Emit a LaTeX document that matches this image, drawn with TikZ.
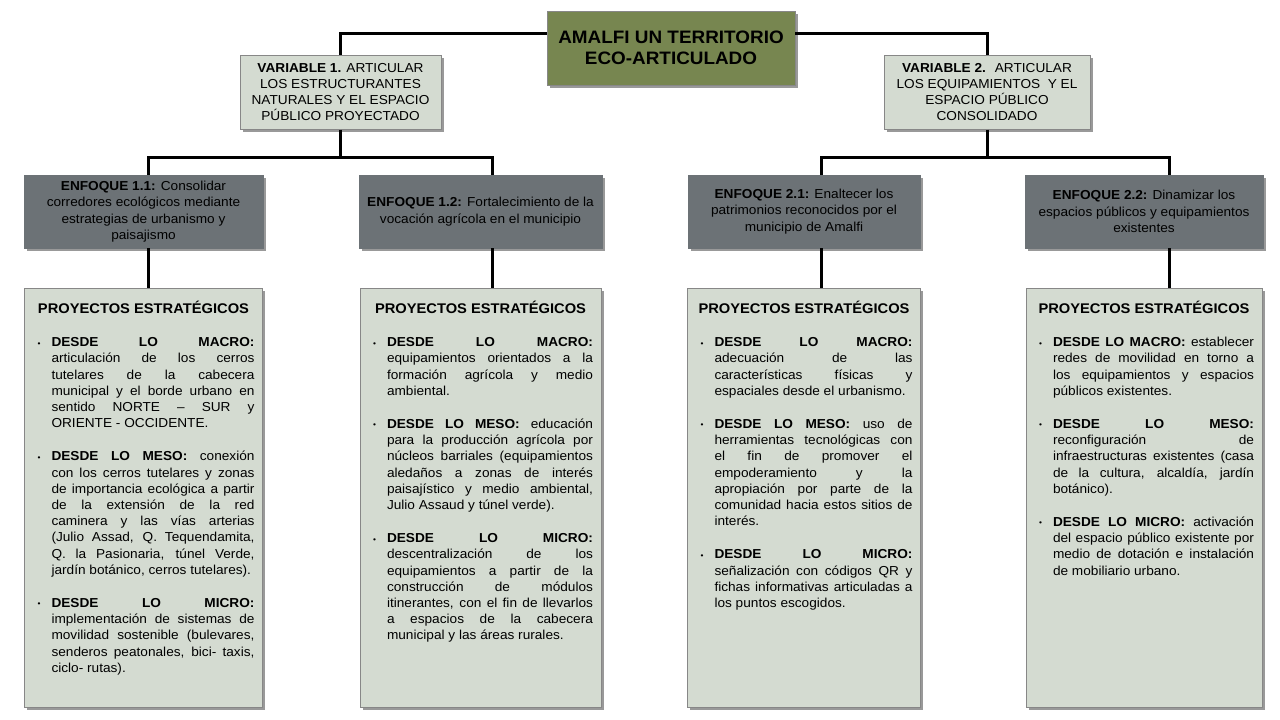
\documentclass[tikz,border=0pt]{standalone}
\usepackage{fontspec}
\setmainfont{Liberation Sans}[FakeStretch=1.05]
\usepackage{enumitem}
\usepackage{tikz}
\usetikzlibrary{positioning, shadows}
\definecolor{verdetit}{RGB}{119,134,80}
\definecolor{grisclaro}{RGB}{212,219,209}
\definecolor{grisosc}{RGB}{108,114,118}
\definecolor{borde}{RGB}{135,135,135}
\tikzstyle{caja} = [rectangle, draw=borde, line width=0.6pt, inner sep=0pt, drop shadow={shadow xshift=2.5pt, shadow yshift=-2.5pt, opacity=0.4, fill=black}]
\tikzstyle{linea} = [line width=3pt]

% lista de proyectos (ancho, items)
\newcommand{\listaproy}[2]{%
  \parbox[c][403pt][t]{#1}{%
    \tolerance=10000 \hbadness=10000 \hyphenpenalty=10000
    \vspace*{5pt}%
    {\centering\fontsize{14}{16}\selectfont\bfseries PROYECTOS ESTRATÉGICOS\par}%
    \fontsize{13}{16.2}\selectfont
    \begin{itemize}[label={\fontsize{8}{8}\selectfont\raisebox{0.6pt}{\textbullet}}, leftmargin=19pt, labelsep=11pt, topsep=17pt, itemsep=17pt, parsep=0pt, partopsep=0pt]
      #2
    \end{itemize}}}

\begin{document}
\begin{tikzpicture}[x=1pt, y=-1pt]
        % 样式定义
        \tikzstyle{titulo} = [caja, fill=verdetit, minimum width=248pt, minimum height=74pt, align=center, font=\fontsize{18}{21}\selectfont\bfseries]
        \tikzstyle{varbox} = [caja, fill=grisclaro, minimum height=74pt, align=center, font=\fontsize{13}{16}\selectfont]
        \tikzstyle{enfoque} = [caja, fill=grisosc, draw=grisosc, minimum height=73pt, align=center, font=\fontsize{13}{16.5}\selectfont]
        \tikzstyle{proyecto} = [caja, fill=grisclaro, inner xsep=8pt, inner ysep=8pt]

        \fill [white] (0,0) rectangle (1280,720);
        \useasboundingbox (0,0) rectangle (1280,720);

        % 放置节点
        \node [titulo] (title) at (671,48) {AMALFI UN TERRITORIO\\ECO-ARTICULADO};
        \node [varbox, minimum width=201pt] (var1) at (340.5,92.5) {\textbf{VARIABLE 1.} ARTICULAR\\LOS ESTRUCTURANTES\\NATURALES Y EL ESPACIO\\PÚBLICO PROYECTADO};
        \node [varbox, minimum width=206pt] (var2) at (987,92.5) {\textbf{VARIABLE 2.} ~ARTICULAR\\LOS EQUIPAMIENTOS ~Y EL\\ESPACIO PÚBLICO\\CONSOLIDADO};

        \node [enfoque, minimum width=239pt] (e11) at (143.5,211.5) {\textbf{ENFOQUE 1.1:} Consolidar\\corredores ecológicos mediante\\estrategias de urbanismo y\\paisajismo};
        \node [enfoque, minimum width=243pt] (e12) at (480.5,211.5) {\textbf{ENFOQUE 1.2:} Fortalecimiento de la\\vocación agrícola en el municipio};
        \node [enfoque, minimum width=232pt] (e21) at (804,211.5) {\textbf{ENFOQUE 2.1:} Enaltecer los\\patrimonios reconocidos por el\\municipio de Amalfi};
        \node [enfoque, minimum width=238pt] (e22) at (1144,211.5) {\textbf{ENFOQUE 2.2:} Dinamizar los\\espacios públicos y equipamientos\\existentes};

        \node [proyecto, below of=e11, node distance=286pt] (p11) {\listaproy{222pt}{%
          \item \textbf{DESDE LO MACRO:}\linebreak articulación de los cerros\linebreak tutelares de la cabecera\linebreak municipal y el borde urbano en\linebreak sentido NORTE – SUR y\linebreak ORIENTE - OCCIDENTE.
          \item \textbf{DESDE LO MESO:} conexión\linebreak con los cerros tutelares y zonas\linebreak de importancia ecológica a partir\linebreak de la extensión de la red\linebreak caminera y las vías arterias\linebreak (Julio Assad, Q. Tequendamita,\linebreak Q. la Pasionaria, túnel Verde,\linebreak jardín botánico, cerros tutelares).
          \item \textbf{DESDE LO MICRO:}\linebreak implementación de sistemas de\linebreak movilidad sostenible (bulevares,\linebreak senderos peatonales, bici- taxis,\linebreak ciclo- rutas).}};
        \node [proyecto, below of=e12, node distance=286pt] (p12) {\listaproy{225pt}{%
          \item \textbf{DESDE LO MACRO:}\linebreak equipamientos orientados a la\linebreak formación agrícola y medio\linebreak ambiental.
          \item \textbf{DESDE LO MESO:} educación\linebreak para la producción agrícola por\linebreak núcleos barriales (equipamientos\linebreak aledaños a zonas de interés\linebreak paisajístico y medio ambiental,\linebreak Julio Assaud y túnel verde).
          \item \textbf{DESDE LO MICRO:}\linebreak descentralización de los\linebreak equipamientos a partir de la\linebreak construcción de módulos\linebreak itinerantes, con el fin de llevarlos\linebreak a espacios de la cabecera\linebreak municipal y las áreas rurales.}};
        \node [proyecto, below of=e21, node distance=286pt] (p21) {\listaproy{217pt}{%
          \item \textbf{DESDE LO MACRO:}\linebreak adecuación de las\linebreak características físicas y\linebreak espaciales desde el urbanismo.
          \item \textbf{DESDE LO MESO:} uso de\linebreak herramientas tecnológicas con\linebreak el fin de promover el\linebreak empoderamiento y la\linebreak apropiación por parte de la\linebreak comunidad hacia estos sitios de\linebreak interés.
          \item \textbf{DESDE LO MICRO:}\linebreak señalización con códigos QR y\linebreak fichas informativas articuladas a\linebreak los puntos escogidos.}};
        \node [proyecto, below of=e22, node distance=286pt] (p22) {\listaproy{220pt}{%
          \item \textbf{DESDE LO MACRO:} establecer\linebreak redes de movilidad en torno a\linebreak los equipamientos y espacios\linebreak públicos existentes.
          \item \textbf{DESDE LO MESO:}\linebreak reconfiguración de\linebreak infraestructuras existentes (casa\linebreak de la cultura, alcaldía, jardín\linebreak botánico).
          \item \textbf{DESDE LO MICRO:} activación\linebreak del espacio público existente por\linebreak medio de dotación e instalación\linebreak de mobiliario urbano.}};

        % puntos de unión
        \coordinate (c11) at (148,157);
        \coordinate (c12) at (492,157);
        \coordinate (c21) at (821,157);
        \coordinate (c22) at (1169,157);

        % conectores
        \draw [linea] ([yshift=15pt]title.west) -| (var1.north);
        \draw [linea] ([yshift=15pt]title.east) -| (var2.north);
        \draw [linea] (var1.south) -- (var1.south |- c11);
        \draw [linea] (var2.south) -- (var2.south |- c21);
        \draw [linea] (c11 |- e11.north) -- (c11) -- (c12) -- (c12 |- e12.north);
        \draw [linea] (c21 |- e21.north) -- (c21) -- (c22) -- (c22 |- e22.north);
        \draw [linea] (c11 |- e11.south) -- (c11 |- p11.north);
        \draw [linea] (c12 |- e12.south) -- (c12 |- p12.north);
        \draw [linea] (c21 |- e21.south) -- (c21 |- p21.north);
        \draw [linea] (c22 |- e22.south) -- (c22 |- p22.north);
    \end{tikzpicture}
\end{document}
